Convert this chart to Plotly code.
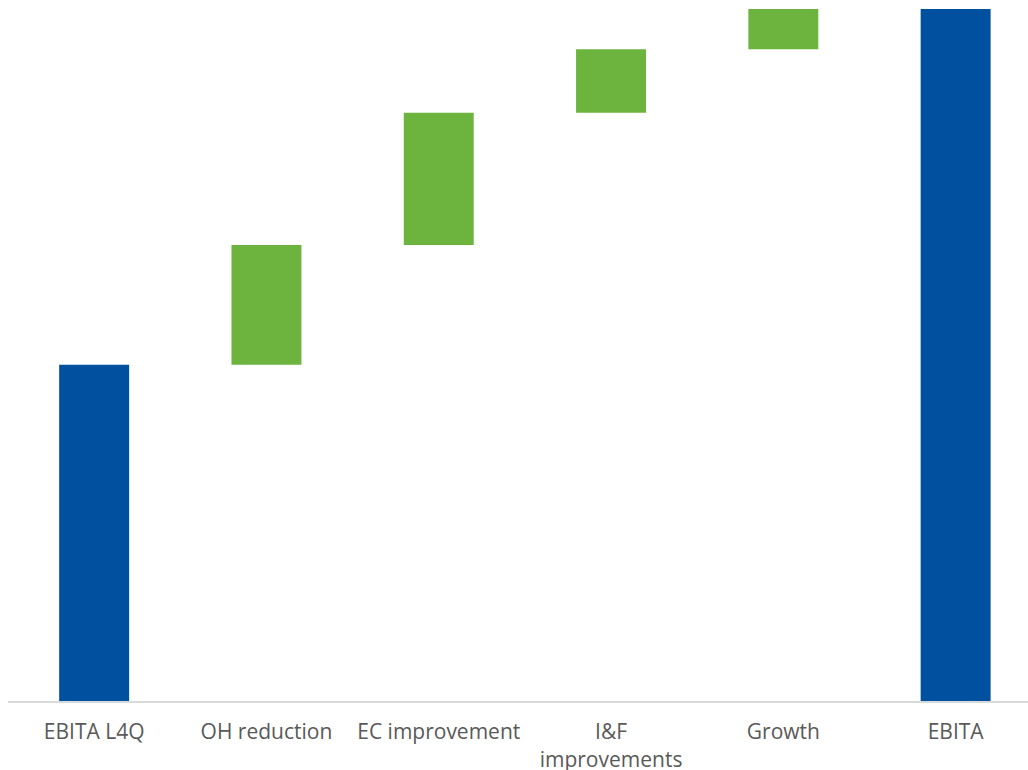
import plotly.graph_objects as go

# EBITA bridge: starting level, improvement drivers, resulting level
categories = ["EBITA L4Q", "OH reduction", "EC improvement", "I&F<br>improvements", "Growth", "EBITA"]
values = [48.6, 17.3, 19.1, 9.2, 5.8, 0]
measures = ["absolute", "relative", "relative", "relative", "relative", "total"]

BLUE = "#0050A0"
GREEN = "#6DB43F"

fig = go.Figure(
    go.Waterfall(
        x=list(range(len(categories))),
        y=values,
        measure=measures,
        width=0.406,
        increasing=dict(marker=dict(color=GREEN)),
        decreasing=dict(marker=dict(color=GREEN)),
        totals=dict(marker=dict(color=BLUE)),
        connector=dict(visible=False),
        textinfo="none",
        hoverinfo="x+y",
    )
)

fig.update_layout(
    width=1028,
    height=770,
    margin=dict(l=8, r=0, t=9, b=69),
    paper_bgcolor="white",
    plot_bgcolor="white",
    showlegend=False,
    font=dict(family="Open Sans, Arial, sans-serif", size=21, color="#595959"),
    bargap=0,
)

fig.update_xaxes(
    tickmode="array",
    tickvals=list(range(len(categories))),
    ticktext=categories,
    range=[-0.5, 5.42],
    showline=True,
    linecolor="#D9D9D9",
    linewidth=2,
    showgrid=False,
    zeroline=False,
    ticks="",
    ticklabelstandoff=11,
    automargin=False,
)
fig.update_yaxes(
    range=[0, 100],
    visible=False,
    showgrid=False,
    zeroline=False,
    automargin=False,
)

fig.write_html("out.html")
